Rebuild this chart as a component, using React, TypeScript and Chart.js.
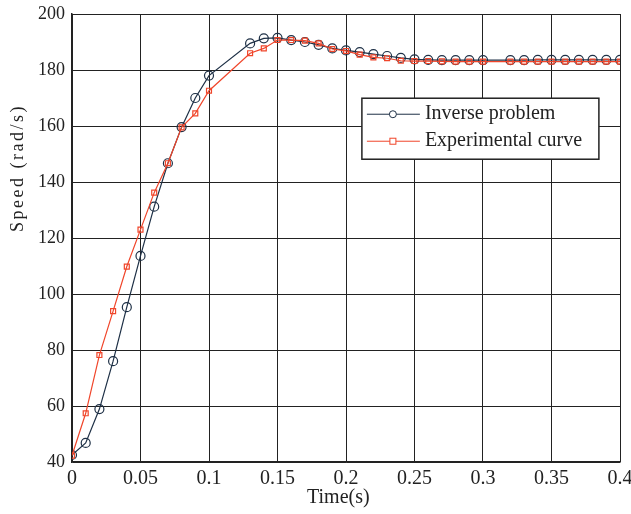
import React, { useEffect, useRef } from 'react';
import { Chart, registerables } from 'chart.js';

Chart.register(...registerables);

const timeS = [
  0, 0.01, 0.02, 0.03, 0.04, 0.05, 0.06, 0.07, 0.08, 0.09, 0.1,
  0.13, 0.14, 0.15, 0.16, 0.17, 0.18, 0.19, 0.2, 0.21, 0.22, 0.23, 0.24, 0.25, 0.26, 0.27, 0.28, 0.29, 0.3,
  0.32, 0.33, 0.34, 0.35, 0.36, 0.37, 0.38, 0.39, 0.4,
];
const inverseProblem = [
  42.5, 46.8, 58.9, 76, 95.3, 113.6, 131.2, 146.7, 159.6, 170, 178,
  189.5, 191.3, 191.5, 190.7, 190, 189, 187.7, 187, 186.4, 185.7, 185, 184.3, 183.8, 183.6, 183.5, 183.5, 183.5, 183.5,
  183.5, 183.5, 183.6, 183.6, 183.6, 183.6, 183.6, 183.6, 183.6,
];
const experimentalCurve = [
  42.3, 57.4, 78.2, 93.9, 109.8, 123, 136.2, 146.7, 159.5, 164.5, 172.6,
  186, 187.7, 190.7, 190.7, 190.5, 189.5, 187.5, 186.8, 185.5, 184.5, 184.2, 183.3, 183.2, 183.2, 183.1, 183, 183, 183,
  183, 183, 183, 183, 183, 183, 183, 183, 183,
];
const seriesNames = ['Inverse problem', 'Experimental curve'];
const seriesColors = ['#1e3046', '#f0452a'];
const xAxisTitle = 'Time(s)';
const yAxisTitle = 'Speed (rad/s)';

const FONT = '"Liberation Serif", "Times New Roman", serif';

const overlayPlugin = {
  id: 'overlay',
  afterDraw(chart: any) {
    const ctx = chart.ctx as CanvasRenderingContext2D;
    const area = chart.chartArea;
    ctx.save();
    // axis titles
    ctx.fillStyle = '#222';
    ctx.font = `20px ${FONT}`;
    ctx.textAlign = 'center';
    ctx.textBaseline = 'middle';
    ctx.fillText(xAxisTitle, area.left + (area.right - area.left) * 0.486, 498);
    ctx.save();
    ctx.translate(18, 168);
    ctx.rotate(-Math.PI / 2);
    ctx.font = `18px ${FONT}`;
    (ctx as any).letterSpacing = '2.5px';
    ctx.fillText(yAxisTitle, 0, 0);
    ctx.restore();

    // legend box
    const bx = area.left + (area.right - area.left) * 0.529;
    const by = area.top + (area.bottom - area.top) * 0.188;
    const bw = 237;
    const bh = 61;
    ctx.fillStyle = '#fff';
    ctx.fillRect(bx, by, bw, bh);
    ctx.strokeStyle = '#222';
    ctx.lineWidth = 1.5;
    ctx.strokeRect(bx, by, bw, bh);
    const rows = [by + 16, by + 43];
    for (let i = 0; i < 2; i++) {
      const y = rows[i];
      ctx.strokeStyle = seriesColors[i];
      ctx.lineWidth = 1;
      ctx.beginPath();
      ctx.moveTo(bx + 5, y);
      ctx.lineTo(bx + 58, y);
      ctx.stroke();
      ctx.fillStyle = '#fff';
      if (i === 0) {
        ctx.beginPath();
        ctx.arc(bx + 31, y, 3.5, 0, Math.PI * 2);
        ctx.fill();
        ctx.stroke();
      } else {
        ctx.fillRect(bx + 28, y - 3, 6, 6);
        ctx.strokeRect(bx + 28, y - 3, 6, 6);
      }
      ctx.fillStyle = '#222';
      ctx.font = `20px ${FONT}`;
      ctx.textAlign = 'left';
      ctx.textBaseline = 'middle';
      ctx.fillText(seriesNames[i], bx + 63, y);
    }
    ctx.restore();
  },
};

export default function App() {
  const ref = useRef<HTMLCanvasElement | null>(null);
  useEffect(() => {
    if (!ref.current) return;
    const chart = new Chart(ref.current, {
      type: 'line',
      data: {
        datasets: [
          {
            label: seriesNames[0],
            data: timeS.map((t, i) => ({ x: t, y: inverseProblem[i] })),
            borderColor: seriesColors[0],
            backgroundColor: 'rgba(255,255,255,0)',
            borderWidth: 1.2,
            pointStyle: 'circle',
            pointRadius: 4.5,
            pointBorderWidth: 1.2,
            pointBorderColor: seriesColors[0],
            pointBackgroundColor: 'rgba(255,255,255,0)',
            tension: 0,
            order: 1,
          },
          {
            label: seriesNames[1],
            data: timeS.map((t, i) => ({ x: t, y: experimentalCurve[i] })),
            borderColor: seriesColors[1],
            backgroundColor: 'rgba(255,255,255,0)',
            borderWidth: 1.2,
            pointStyle: 'rect',
            pointRadius: 3.5,
            pointBorderWidth: 1.2,
            pointBorderColor: seriesColors[1],
            pointBackgroundColor: 'rgba(255,255,255,0)',
            tension: 0,
            order: 0,
          },
        ],
      },
      options: {
        responsive: false,
        animation: false,
        devicePixelRatio: 1,
        layout: { padding: { top: 14, right: 11, left: 0, bottom: 0 } },
        plugins: {
          legend: { display: false },
          tooltip: { enabled: false },
        },
        scales: {
          x: {
            type: 'linear',
            min: 0,
            max: 0.4,
            afterFit: (s: any) => { s.height = 52; s.paddingLeft = 0; s.paddingRight = 0; },
            ticks: {
              stepSize: 0.05,
              color: '#222',
              padding: 5,
              font: { family: FONT, size: 20 },
              callback: (v: any) => String(parseFloat(Number(v).toFixed(2))),
            },
            grid: { color: '#222', lineWidth: 1, drawTicks: false },
            border: { color: '#222', width: 1.5 },
          },
          y: {
            min: 40,
            max: 200,
            afterFit: (s: any) => { s.width = 72; s.paddingTop = 0; s.paddingBottom = 0; },
            ticks: {
              stepSize: 20,
              color: '#222',
              padding: 7,
              font: { family: FONT, size: 18 },
            },
            grid: { color: '#222', lineWidth: 1, drawTicks: false },
            border: { color: '#222', width: 1.5 },
          },
        },
      },
      plugins: [overlayPlugin],
    } as any);
    return () => chart.destroy();
  }, []);
  return (
    <div style={{ position: 'absolute', left: 0, top: 0, width: 631, height: 514, background: '#fff' }}>
      <canvas ref={ref} width={631} height={514} />
    </div>
  );
}
